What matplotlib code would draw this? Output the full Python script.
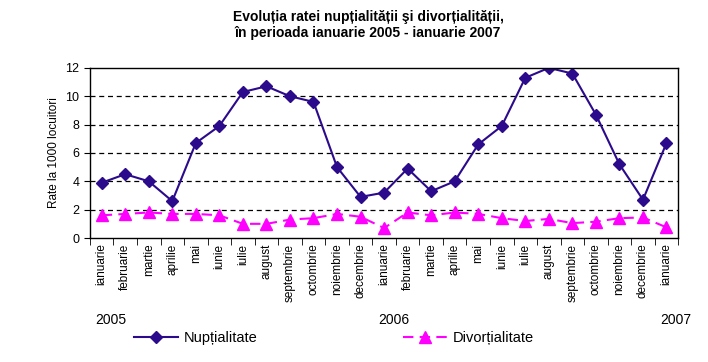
import matplotlib.pyplot as plt
import numpy as np

luni = ['ianuarie', 'februarie', 'martie', 'aprilie', 'mai', 'iunie', 'iulie',
        'august', 'septembrie', 'octombrie', 'noiembrie', 'decembrie']
categorii = luni + luni + ['ianuarie']
ani = ['2005', '2006', '2007']

nuptialitate = [3.9, 4.5, 4.0, 2.6, 6.7, 7.9, 10.3, 10.7, 10.0, 9.6, 5.0, 2.9,
                3.2, 4.9, 3.3, 4.0, 6.6, 7.9, 11.3, 12.0, 11.6, 8.7, 5.2, 2.7, 6.7]
divortialitate = [1.6, 1.7, 1.8, 1.7, 1.7, 1.6, 1.0, 1.0, 1.3, 1.4, 1.7, 1.5,
                  0.7, 1.8, 1.6, 1.8, 1.7, 1.4, 1.2, 1.35, 1.05, 1.15, 1.4, 1.45, 0.75]

plt.rcParams['font.family'] = ['Liberation Sans Narrow', 'Liberation Sans', 'DejaVu Sans']

fig = plt.figure(figsize=(7.08, 3.62), dpi=100)
ax = fig.add_axes([0.127, 0.3425, 0.831, 0.47])

x = np.arange(len(categorii))
ax.plot(x, nuptialitate, color='#2b0a8c', lw=1.5, marker='D', ms=6,
        label='Nupțialitate')
ax.plot(x, divortialitate, color='#ff00ff', lw=1.5, ls=(0, (5, 3)), marker='^',
        ms=8, label='Divorțialitate')

ax.set_xlim(-0.5, len(categorii) - 0.5)
ax.set_ylim(0, 12)
ax.set_yticks(range(0, 13, 2))
for v in range(2, 12, 2):
    ax.axhline(v, color='black', lw=0.9, ls=(0, (4, 3)), zorder=0)

ax.set_xticks(x)
ax.set_xticklabels(categorii, rotation=90, fontsize=8.5)
ax.set_xticks(np.arange(-0.5, len(categorii)), minor=True)
ax.tick_params(axis='x', which='major', length=0, pad=4)
ax.tick_params(axis='x', which='minor', length=5, direction='out')
ax.tick_params(axis='y', labelsize=9, length=4, direction='out')
for s in ax.spines.values():
    s.set_linewidth(1.0)
ax.set_ylabel('Rate la 1000 locuitori', fontsize=8.5)

for i, an in zip([0, 12, 24], ani):
    ax.text(i + 0.4, -0.48, an, transform=ax.get_xaxis_transform(),
            ha='center', va='center', fontsize=10)

ax.legend(loc='center', bbox_to_anchor=(0.415, -0.59), ncol=2,
          frameon=False, fontsize=10.5, columnspacing=10, handlelength=3.0,
          handletextpad=0.4)

fig.suptitle('Evoluția ratei nupțialității şi divorțialității,\n'
             'în perioada ianuarie 2005 - ianuarie 2007',
             x=0.52, y=0.972, fontsize=10, fontweight='bold')

fig.savefig('out.png', dpi=100)
